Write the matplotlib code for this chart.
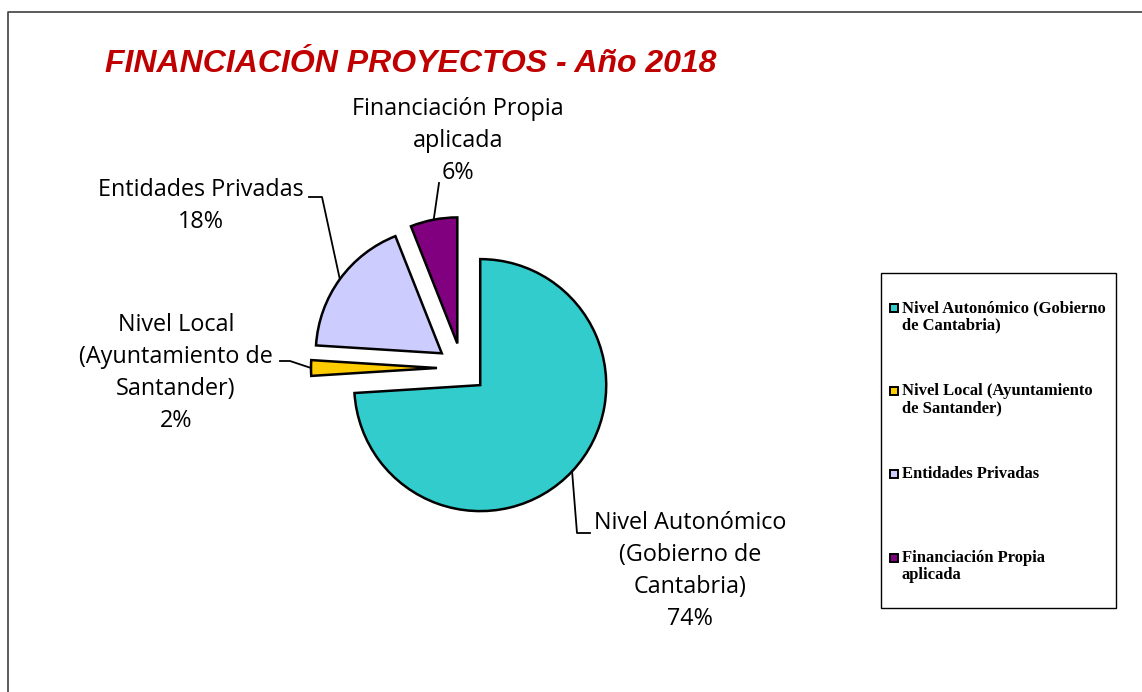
import numpy as np
import matplotlib
matplotlib.use("Agg")
import matplotlib.pyplot as plt
from matplotlib.patches import Rectangle

# data
categories = ["Nivel Autonómico (Gobierno de Cantabria)",
              "Nivel Local (Ayuntamiento de Santander)",
              "Entidades Privadas",
              "Financiación Propia aplicada"]
shares = [74, 2, 18, 6]
pie_labels = ["Nivel Autonómico\n(Gobierno de\nCantabria)",
              "Nivel Local\n(Ayuntamiento de\nSantander)",
              "Entidades Privadas",
              "Financiación Propia\naplicada"]
legend_labels = ["Nivel Autonómico (Gobierno\nde Cantabria)",
                 "Nivel Local (Ayuntamiento\nde Santander)",
                 "Entidades Privadas",
                 "Financiación Propia\naplicada"]
colors = ["#33CCCC", "#FFCC00", "#CCCCFF", "#800080"]

W, H = 1142, 692
fig = plt.figure(figsize=(W / 100, H / 100), dpi=100)
ax = fig.add_axes([0, 0, 1, 1])

# pixel-style helper: image y (top-down) -> data y
Y = lambda y: H - y

R = 126
EXP = 25
center = (462, Y(368))
wedges, _ = ax.pie(shares, colors=colors, startangle=90, counterclock=False,
                   radius=R, center=center, explode=[EXP] * 4,
                   wedgeprops=dict(edgecolor="black", linewidth=1.8),
                   frame=True)
ax.set_xlim(0, W)
ax.set_ylim(0, H)
ax.set_aspect("equal")
ax.axis("off")

# outer frame (only top/left edges visible in the crop)
ax.plot([8, 8, W + 5], [-5, Y(12), Y(12)], color="#404040", lw=1.2,
        clip_on=False)

# label text blocks (center x, center y in image px) and leader elbows
label_pos = [(690, 571), (176, 373), (201, 206), (458, 141)]
elbows = [[(577, 533), (590, 533)],
          [(290, 361), (280, 361)],
          [(322, 197), (309, 197)],
          [(439, 183)]]

lab_font = dict(family="Open Sans", fontsize=16.8)
for w, txt, pct, (lx, ly), elb in zip(wedges, pie_labels, shares,
                                      label_pos, elbows):
    tm = np.deg2rad((w.theta1 + w.theta2) / 2)
    cx, cy = w.center
    px, py = cx + R * np.cos(tm), cy + R * np.sin(tm)
    xs = [px] + [e[0] for e in elb]
    ys = [py] + [Y(e[1]) for e in elb]
    ax.plot(xs, ys, color="black", lw=1.3)
    ax.text(lx, Y(ly), f"{txt}\n{pct}%", ha="center", va="center",
            multialignment="center", linespacing=1.45, **lab_font)

# title
ax.text(105, Y(72), "FINANCIACIÓN PROYECTOS - Año 2018", color="#C00000",
        fontsize=23, fontweight="bold", fontstyle="italic",
        family="Liberation Sans", ha="left", va="baseline")

# legend box drawn by hand so each marker sits on the first text line
ax.add_patch(Rectangle((881, Y(608)), 1116 - 881, 608 - 273, fill=False,
                       edgecolor="black", lw=1.0))
leg_rows = [308, 391, 474, 558]
for col, lab, ry in zip(colors, legend_labels, leg_rows):
    ax.add_patch(Rectangle((890, Y(ry) - 4), 8, 8, facecolor=col,
                           edgecolor="black", lw=1.4))
    ax.text(902, Y(ry - 8), lab, ha="left", va="top",
            family="Liberation Serif", fontsize=12, fontweight="bold",
            linespacing=1.12)

fig.savefig("out.png", dpi=100)
